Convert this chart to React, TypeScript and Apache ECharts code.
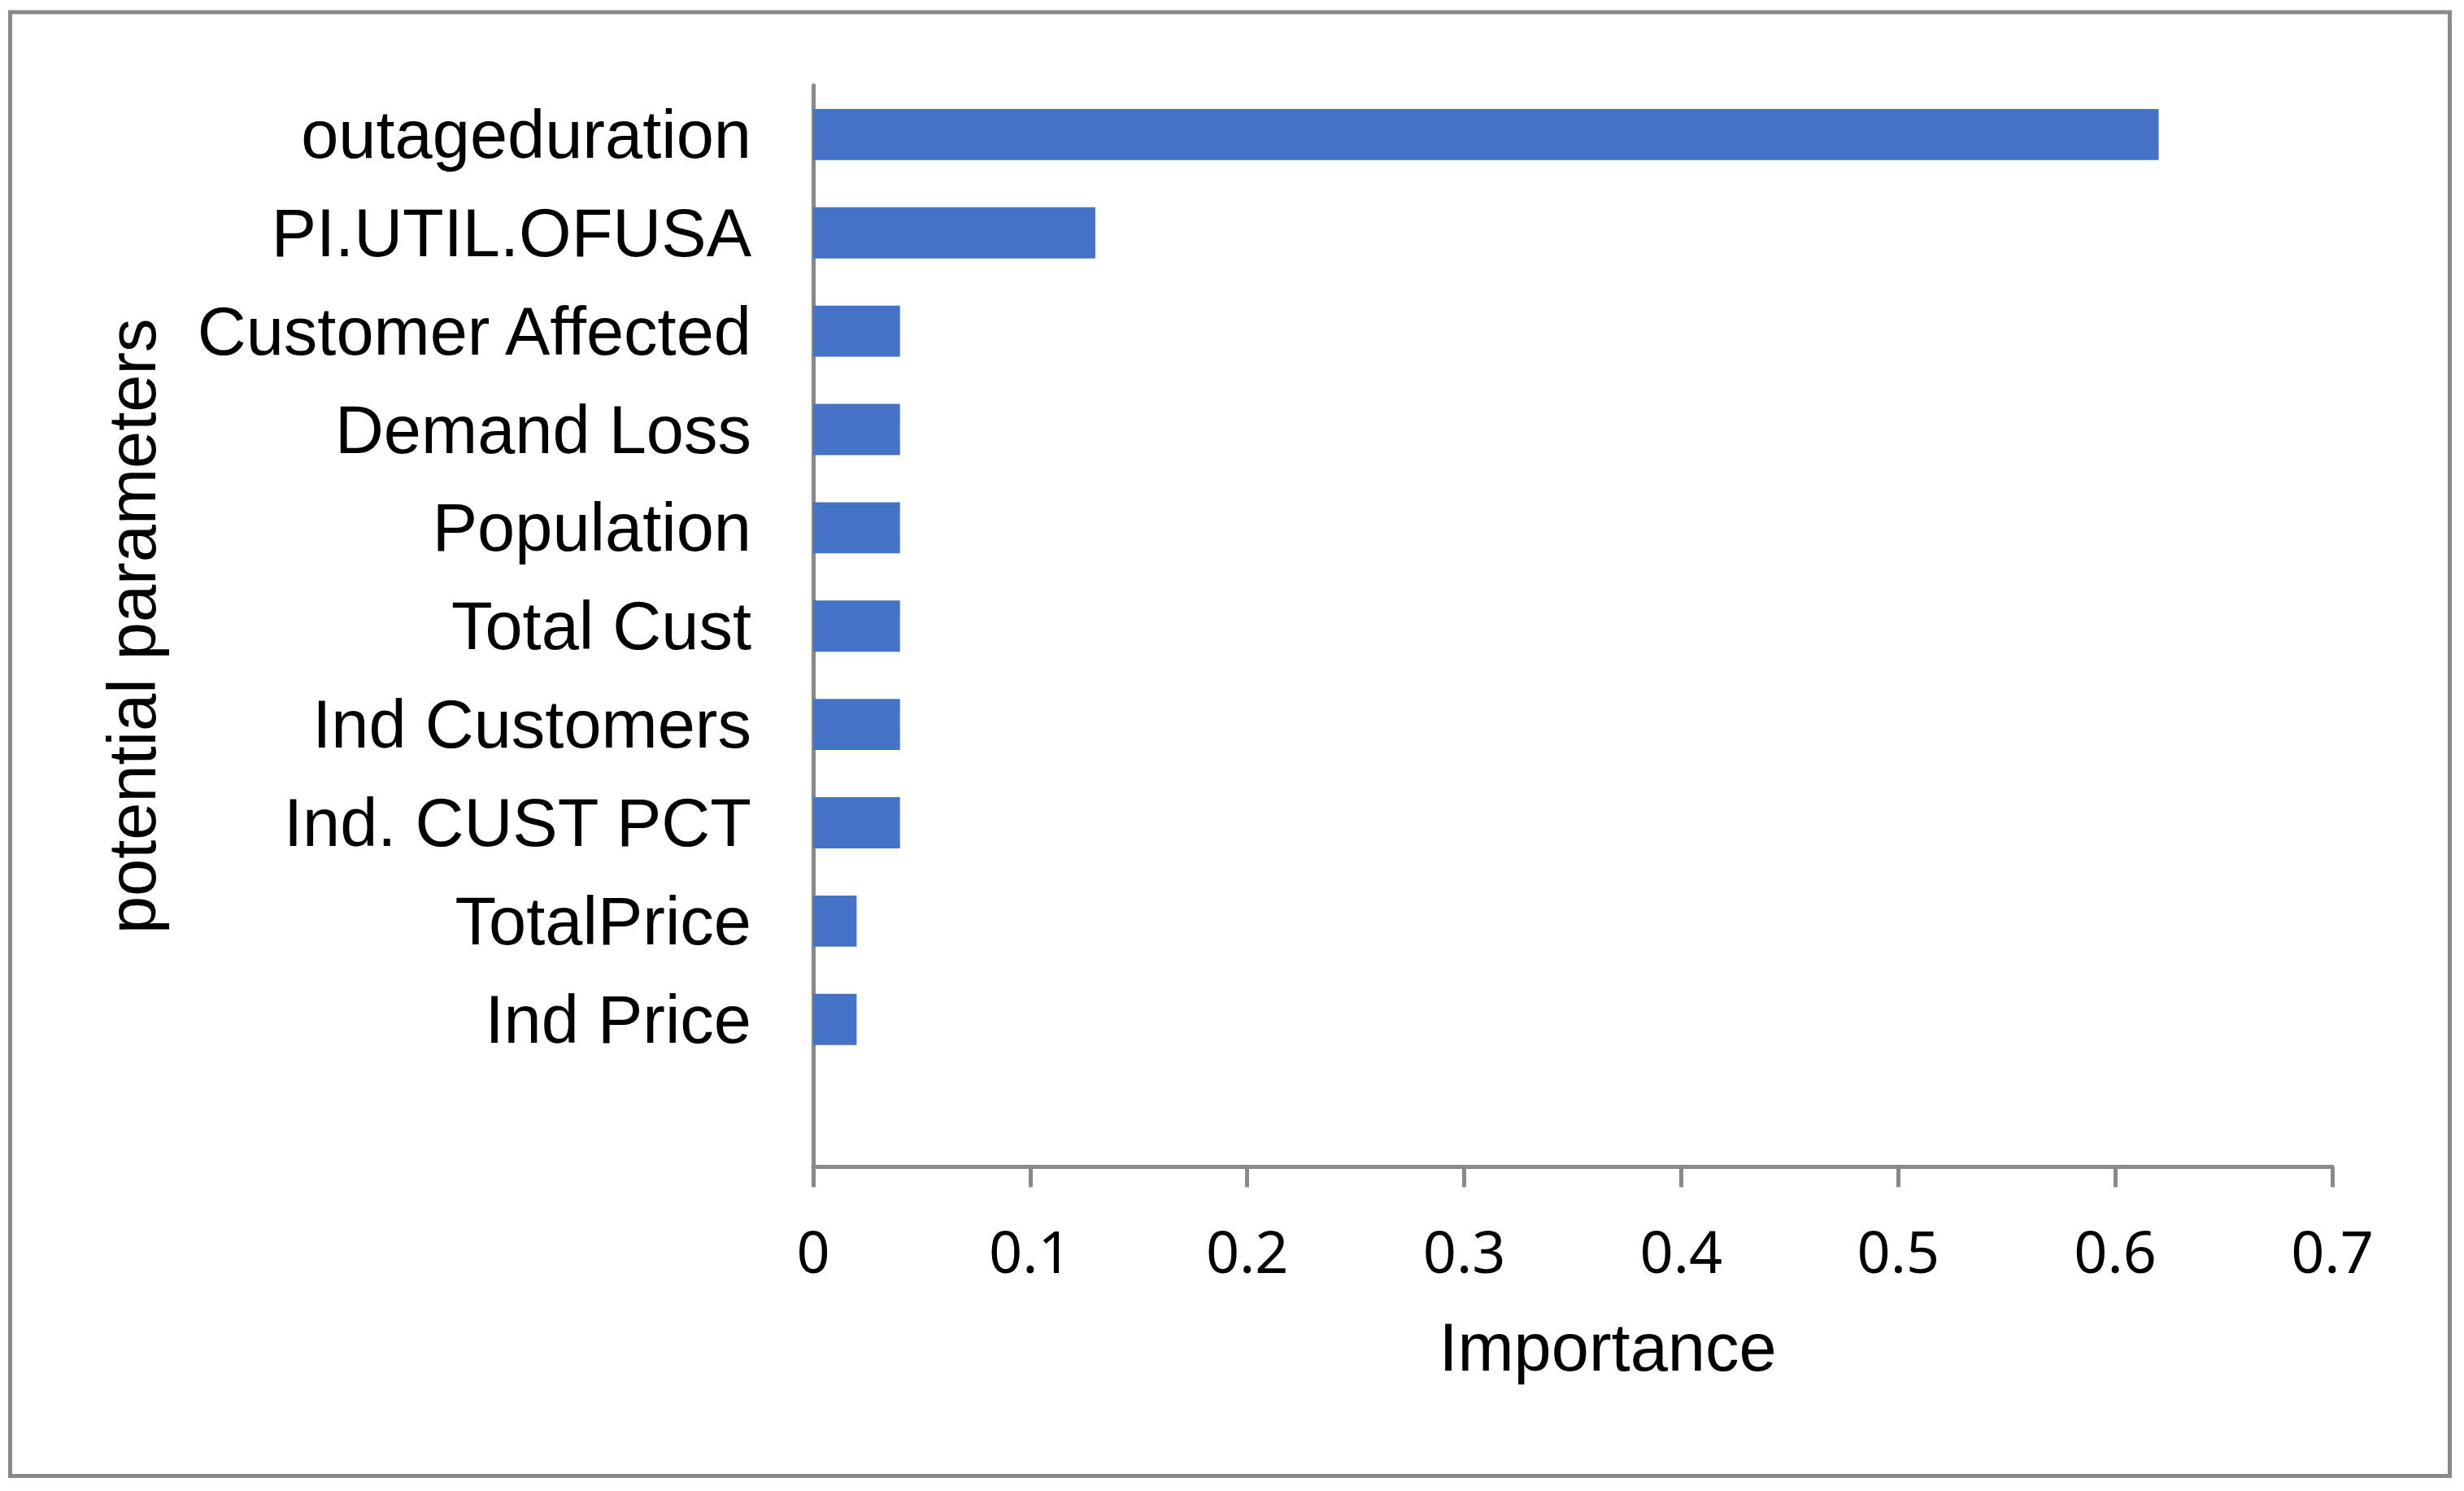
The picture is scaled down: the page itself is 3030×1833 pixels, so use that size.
import React, { useEffect, useRef } from "react";
import * as echarts from "echarts";

const categories: string[] = [
  "outageduration",
  "PI.UTIL.OFUSA",
  "Customer Affected",
  "Demand Loss",
  "Population",
  "Total Cust",
  "Ind Customers",
  "Ind. CUST PCT",
  "TotalPrice",
  "Ind Price",
  "",
];
const importance: (number | string)[] = [0.62, 0.13, 0.04, 0.04, 0.04, 0.04, 0.04, 0.04, 0.02, 0.02, "-"];
const xMin = 0;
const xMax = 0.7;
const xInterval = 0.1;
const xTitle = "Importance";
const yTitle = "potential parameters";

const ARIAL = "'Liberation Sans', Arial, sans-serif";

export default function App() {
  const ref = useRef<HTMLDivElement>(null);
  useEffect(() => {
    document.body.style.margin = "0";
    const chart = echarts.init(ref.current!, undefined, { renderer: "svg" });
    const axisColor = "#898989";
    chart.setOption({
      animation: false,
      backgroundColor: "#ffffff",
      graphic: [
        {
          type: "rect",
          shape: { x: 12.5, y: 15, width: 3000, height: 1799.5 },
          style: { fill: "none", stroke: axisColor, lineWidth: 5 },
          silent: true,
        },
      ],
      grid: { left: 1000, right: 3030 - 2868, top: 105, bottom: 1833 - 1434.5, containLabel: false },
      xAxis: {
        type: "value",
        min: xMin,
        max: xMax,
        interval: xInterval,
        name: xTitle,
        nameLocation: "middle",
        nameGap: 180,
        nameTextStyle: {
          fontFamily: ARIAL,
          fontSize: 83,
          color: "#000",
          padding: [0, 0, 0, 86],
        },
        axisLine: { show: true, lineStyle: { color: axisColor, width: 5 } },
        axisTick: { show: true, inside: false, length: 25, lineStyle: { color: axisColor, width: 5 } },
        splitLine: { show: false },
        axisLabel: {
          fontFamily: "'Noto Sans', sans-serif",
          fontSize: 72,
          color: "#000",
          margin: 66,
        },
      },
      yAxis: {
        type: "category",
        inverse: true,
        data: categories,
        name: yTitle,
        nameLocation: "middle",
        nameRotate: 90,
        nameGap: 796,
        nameTextStyle: {
          fontFamily: ARIAL,
          fontSize: 83,
          color: "#000",
        },
        axisLine: { show: true, lineStyle: { color: axisColor, width: 5 } },
        axisTick: { show: false },
        axisLabel: {
          fontFamily: ARIAL,
          fontSize: 83,
          color: "#000",
          margin: 76,
        },
      },
      series: [
        {
          type: "bar",
          data: importance,
          barCategoryGap: "48%",
          itemStyle: { color: "#4472C4" },
        },
      ],
    });
    return () => chart.dispose();
  }, []);
  return <div ref={ref} style={{ width: 3030, height: 1833 }} />;
}
